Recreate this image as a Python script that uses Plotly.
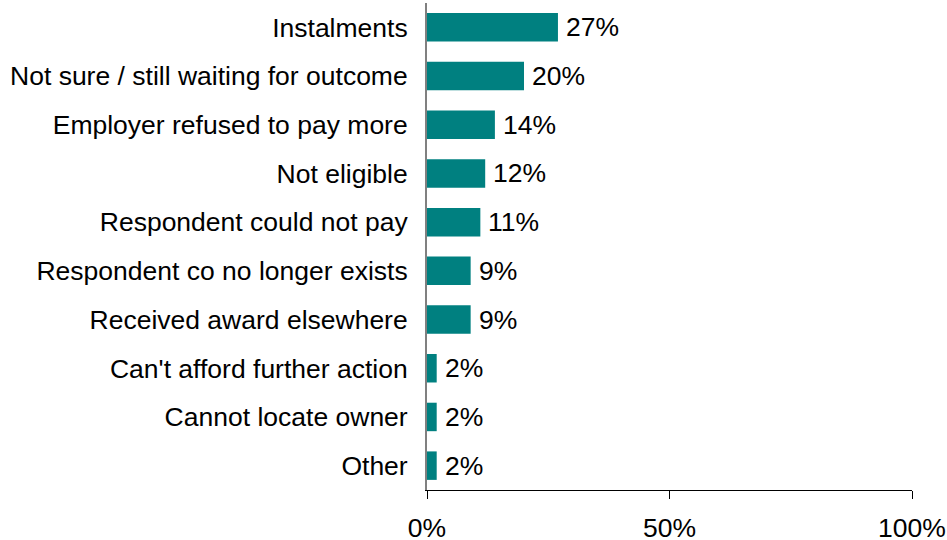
import plotly.graph_objects as go

# Reasons awards were not (fully) paid, share of respondents
categories = [
    "Instalments",
    "Not sure / still waiting for outcome",
    "Employer refused to pay more",
    "Not eligible",
    "Respondent could not pay",
    "Respondent co no longer exists",
    "Received award elsewhere",
    "Can't afford further action",
    "Cannot locate owner",
    "Other",
]
values = [27, 20, 14, 12, 11, 9, 9, 2, 2, 2]
tick_vals = [0, 50, 100]
tick_text = ["0%", "50%", "100%"]

BAR = "#008080"
FONT = "Liberation Sans, Arial, sans-serif"
FS = 26.5

fig = go.Figure(
    go.Bar(
        x=values,
        y=categories,
        orientation="h",
        marker=dict(color=BAR, line=dict(width=0)),
        width=0.585,
        hoverinfo="skip",
    )
)

# Value labels just past the end of each bar
for cat, v in zip(categories, values):
    fig.add_annotation(
        x=v, y=cat, text=f"{v}%", showarrow=False,
        xanchor="left", yanchor="middle", xshift=6,
        font=dict(family=FONT, size=FS, color="#000000"),
    )

fig.update_layout(
    width=947, height=540,
    margin=dict(l=427, r=35, t=3, b=50),
    paper_bgcolor="white", plot_bgcolor="white",
    showlegend=False,
    font=dict(family=FONT, size=FS, color="#000000"),
    bargap=0.415,
)

fig.update_xaxes(
    range=[0, 100],
    tickvals=tick_vals, ticktext=tick_text,
    showgrid=False, zeroline=False,
    showline=True, linecolor="#000000", linewidth=1,
    ticks="outside", ticklen=8, tickcolor="#000000", tickwidth=1,
    ticklabelstandoff=6,
    tickfont=dict(family=FONT, size=FS, color="#000000"),
    automargin=False,
    fixedrange=True,
)
fig.update_yaxes(
    autorange="reversed",
    showgrid=False, zeroline=False,
    showline=True, linecolor="#808080", linewidth=2,
    ticks="", ticklabelstandoff=12,
    tickfont=dict(family=FONT, size=FS, color="#000000"),
    automargin=False,
    fixedrange=True,
)

fig.write_html("out.html", config={"displayModeBar": False})
